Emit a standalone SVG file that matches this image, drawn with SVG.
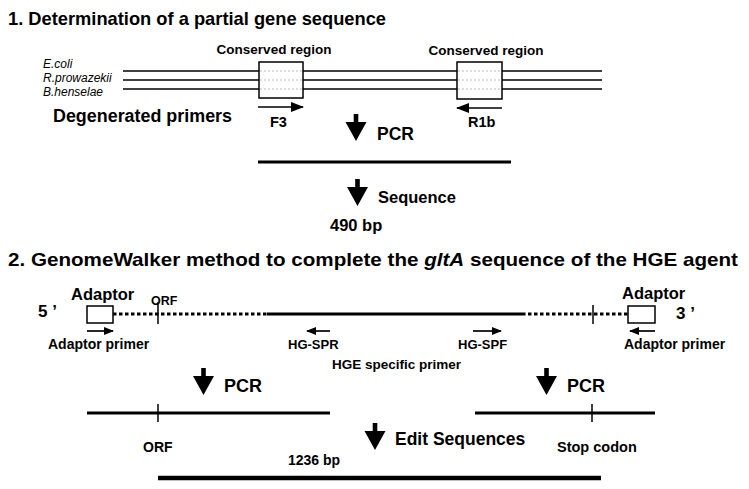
<svg xmlns="http://www.w3.org/2000/svg" width="749" height="489" viewBox="0 0 749 489">
<style>
text{font-family:"Liberation Sans",Arial,Helvetica,sans-serif;font-weight:bold;fill:#000}
.sp{font-style:italic;font-weight:normal;font-size:12px}
.seq{stroke:#000;stroke-width:1.5;fill:none}
.box{fill:#fff;stroke:#000;stroke-width:1.5}
.faint{stroke:#bbb;stroke-width:1;stroke-dasharray:2 2}
.prim{stroke:#000;stroke-width:1.7;fill:none}
.dna{stroke:#000;stroke-width:3;fill:none}
.dot{stroke:#000;stroke-width:3;stroke-dasharray:3.5 2.5;fill:none}
.tick{stroke:#000;stroke-width:1.5}
</style>
<defs>
<marker id="headL" markerUnits="userSpaceOnUse" markerWidth="13" markerHeight="10" viewBox="0 0 13 10" refX="12" refY="5" orient="auto"><path d="M0,0 L13,5 L0,10 Z" fill="#000"/></marker>
<marker id="headS" markerUnits="userSpaceOnUse" markerWidth="10" markerHeight="8" viewBox="0 0 10 8" refX="9" refY="4" orient="auto"><path d="M0,0 L10,4 L0,8 Z" fill="#000"/></marker>
<path id="big" d="M-2.3,0 H2.3 V8 H10.5 L0,27 L-10.5,8 H-2.3 Z" fill="#000"/>
</defs>

<g id="section1">
<text x="8" y="25" font-size="18.5" textLength="378" lengthAdjust="spacingAndGlyphs">1. Determination of a partial gene sequence</text>
</g>

<g id="alignment">
<text class="sp" x="43" y="68">E.coli</text>
<text class="sp" x="43" y="82">R.prowazekii</text>
<text class="sp" x="43" y="96">B.henselae</text>
<line class="seq" x1="123" y1="71" x2="602" y2="71"/>
<line class="seq" x1="123" y1="80" x2="602" y2="80"/>
<line class="seq" x1="123" y1="89" x2="602" y2="89"/>
</g>

<g id="conserved1">
<text x="274" y="54" font-size="13.5" text-anchor="middle">Conserved region</text>
<rect class="box" x="259" y="62" width="44" height="36"/>
<line class="faint" x1="260" y1="71" x2="302" y2="71"/>
<line class="faint" x1="260" y1="80" x2="302" y2="80"/>
<line class="faint" x1="260" y1="89" x2="302" y2="89"/>
</g>

<g id="conserved2">
<text x="486" y="55" font-size="13.5" text-anchor="middle">Conserved region</text>
<rect class="box" x="457" y="62" width="45" height="37"/>
<line class="faint" x1="458" y1="71" x2="501" y2="71"/>
<line class="faint" x1="458" y1="80" x2="501" y2="80"/>
<line class="faint" x1="458" y1="89" x2="501" y2="89"/>
</g>

<g id="primers1">
<text x="53" y="122" font-size="17.5" textLength="179" lengthAdjust="spacingAndGlyphs">Degenerated primers</text>
<text x="270" y="127" font-size="14.5">F3</text>
<text x="468" y="127" font-size="14.5">R1b</text>
</g>

<g id="pcr1">
<text x="377" y="140" font-size="17.5">PCR</text>
<line x1="258" y1="162" x2="511" y2="162" stroke="#000" stroke-width="3"/>
<text x="378" y="203" font-size="16.5">Sequence</text>
<text x="330" y="231" font-size="16.5">490 bp</text>
</g>

<g id="section2">
<text x="8" y="266" font-size="19" textLength="730" lengthAdjust="spacingAndGlyphs">2. GenomeWalker method to complete the <tspan font-style="italic">gltA</tspan> sequence of the HGE agent</text>
</g>

<g id="template">
<text x="38" y="317" font-size="17">5 ’</text>
<text x="676" y="319" font-size="17">3 ’</text>
<text x="71" y="300" font-size="16.5">Adaptor</text>
<text x="622" y="299" font-size="16.5">Adaptor</text>
<text x="151" y="305" font-size="12.5">ORF</text>
<line class="dot" x1="113" y1="314" x2="267" y2="314"/>
<line class="dna" x1="267" y1="314" x2="522" y2="314"/>
<line class="dot" x1="522" y1="314" x2="628" y2="314"/>
<rect class="box" x="87" y="306" width="26" height="17"/>
<rect class="box" x="628" y="306" width="27" height="17"/>
<line class="tick" x1="158" y1="302" x2="158" y2="324"/>
<line class="tick" x1="593" y1="305" x2="593" y2="324"/>
</g>

<g id="primers2">
<text x="48" y="349" font-size="14">Adaptor primer</text>
<text x="288" y="349" font-size="13">HG-SPR</text>
<text x="458" y="349" font-size="13">HG-SPF</text>
<text x="624" y="349" font-size="14">Adaptor primer</text>
<text x="332" y="369" font-size="13.5">HGE specific primer</text>
</g>

<g id="products">
<text x="224" y="392" font-size="18">PCR</text>
<text x="567" y="392" font-size="18">PCR</text>
<line class="dna" x1="87" y1="413" x2="330" y2="413" stroke-width="2.6"/>
<line class="tick" x1="158" y1="404" x2="158" y2="422"/>
<line class="dna" x1="475" y1="413" x2="655" y2="413" stroke-width="2.6"/>
<line class="tick" x1="592" y1="404" x2="592" y2="422"/>
<text x="143" y="452" font-size="14">ORF</text>
<text x="557" y="452" font-size="14.5">Stop codon</text>
<text x="395" y="445" font-size="17.5">Edit Sequences</text>
<text x="288" y="465" font-size="14">1236 bp</text>
<line x1="158" y1="478" x2="601" y2="478" stroke="#000" stroke-width="4.5"/>
</g>

<g id="connectors">
<line class="prim" x1="258" y1="107" x2="303" y2="107" marker-end="url(#headL)"/>
<line class="prim" x1="502" y1="108" x2="457" y2="108" marker-end="url(#headL)"/>
<line class="prim" x1="87" y1="331" x2="113" y2="331" marker-end="url(#headS)"/>
<line class="prim" x1="330" y1="331" x2="307" y2="331" marker-end="url(#headS)"/>
<line class="prim" x1="473" y1="331" x2="501" y2="331" marker-end="url(#headS)"/>
<line class="prim" x1="655" y1="331" x2="630" y2="331" marker-end="url(#headS)"/>
<use href="#big" x="356" y="114"/>
<use href="#big" x="357.5" y="179"/>
<use href="#big" x="203.5" y="368"/>
<use href="#big" x="546.5" y="368"/>
<use href="#big" x="375" y="423"/>
</g>
</svg>
